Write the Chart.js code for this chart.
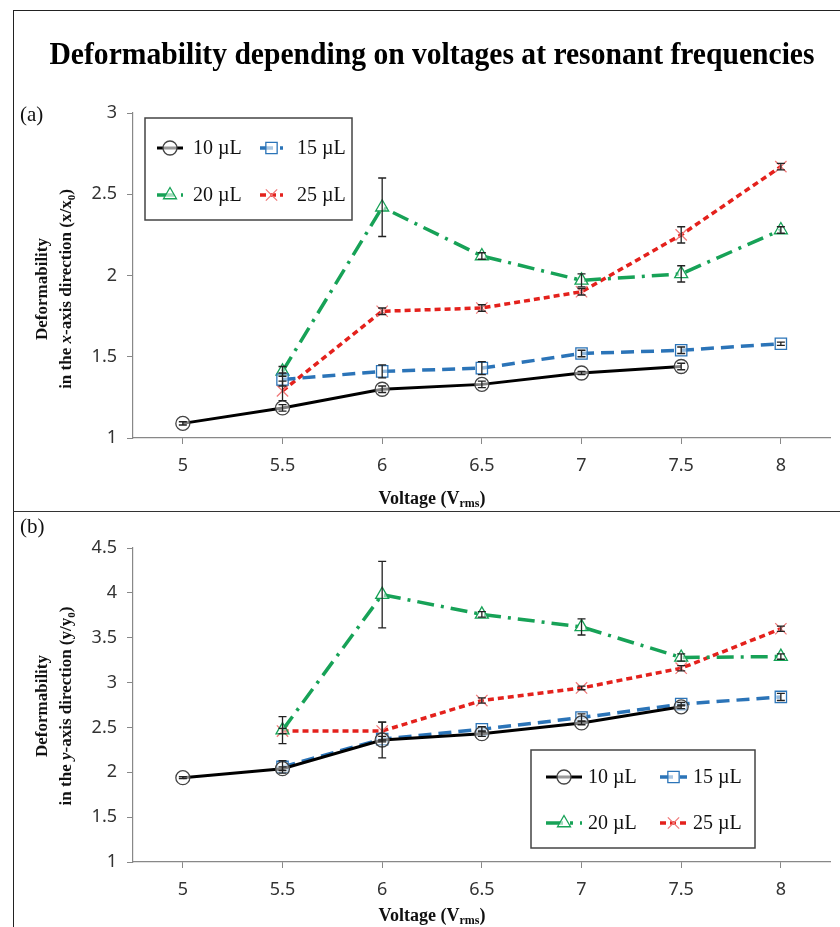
<!DOCTYPE html>
<html>
<head>
<meta charset="utf-8">
<script src="https://cdn.jsdelivr.net/npm/chart.js@4.4.1/dist/chart.umd.min.js"></script>
<style>
html, body { margin: 0; padding: 0; background: #fff; }
#wrap { position: relative; width: 840px; height: 927px; overflow: hidden; }
#frame { position: absolute; left: 13px; top: 10px; width: 900px; height: 1000px;
         border-left: 1.5px solid #222; border-top: 1.5px solid #222; }
#sep { position: absolute; left: 13px; top: 511px; width: 840px; border-top: 1.5px solid #333; }
.box { position: absolute; left: 14px; width: 826px; }
#boxA { top: 11px; height: 500px; }
#boxB { top: 513px; height: 414px; }
</style>
</head>
<body>
<div id="wrap">
  <div id="frame"></div>
  <div id="sep"></div>
  <div class="box" id="boxA"><canvas id="chartA"></canvas></div>
  <div class="box" id="boxB"><canvas id="chartB"></canvas></div>
</div>
<script>
// categorías del eje x (voltaje)
const categories = ['5', '5.5', '6', '6.5', '7', '7.5', '8'];
const seriesNames = ['10 µL', '15 µL', '20 µL', '25 µL'];

// (a) deformabilidad en x
const a10 = [1.09, 1.185, 1.30, 1.33, 1.40, 1.44, null];
const a15 = [null, 1.36, 1.41, 1.43, 1.52, 1.54, 1.58];
const a20 = [null, 1.41, 2.42, 2.12, 1.97, 2.01, 2.28];
const a25 = [null, 1.29, 1.78, 1.80, 1.90, 2.25, 2.67];
const a10Err = [0.01, 0.02, 0.02, 0.02, 0.01, 0.02, null];
const a15Err = [null, 0.04, 0.04, 0.04, 0.02, 0.02, 0.01];
const a20Err = [null, 0.03, 0.18, 0.02, 0.04, 0.05, 0.02];
const a25Err = [null, 0.06, 0.02, 0.02, 0.02, 0.05, 0.02];
const yTicksA = [1, 1.5, 2, 2.5, 3];

// (b) deformabilidad en y
const b10 = [1.94, 2.04, 2.36, 2.43, 2.55, 2.73, null];
const b15 = [null, 2.06, 2.37, 2.48, 2.61, 2.76, 2.84];
const b20 = [null, 2.47, 3.98, 3.76, 3.62, 3.28, 3.29];
const b25 = [null, 2.46, 2.46, 2.80, 2.94, 3.16, 3.60];
const b10Err = [0.01, 0.02, 0.20, 0.03, 0.02, 0.02, null];
const b15Err = [null, 0.07, 0.03, 0.03, 0.04, 0.02, 0.04];
const b20Err = [null, 0.15, 0.37, 0.03, 0.09, 0.04, 0.03];
const b25Err = [null, 0.03, 0.10, 0.03, 0.02, 0.03, 0.03];
const yTicksB = [1, 1.5, 2, 2.5, 3, 3.5, 4, 4.5];

// estilos de cada serie
const styles = [
    { color: '#000000', dash: [], width: 3, point: 'circle', pointColor: '#444444', radius: 7 },
    { color: '#2b74b8', dash: [13, 7], width: 3.5, point: 'rect', pointColor: '#2b74b8', radius: 8 },
    { color: '#17a257', dash: [17, 7, 3, 7], width: 3.5, point: 'triangle', pointColor: '#17a257', radius: 7.5 },
    { color: '#e4211c', dash: [6, 4], width: 3.5, point: 'crossRot', pointColor: '#f07a7a', radius: 8 }
];

function makeDatasets(values, errors) {
    return values.map((data, i) => ({
        label: seriesNames[i],
        data: data,
        errors: errors[i],
        borderColor: styles[i].color,
        borderWidth: styles[i].width,
        borderDash: styles[i].dash,
        pointStyle: styles[i].point,
        pointRadius: styles[i].radius,
        pointBorderColor: styles[i].pointColor,
        pointBackgroundColor: 'rgba(255,255,255,0.5)',
        pointBorderWidth: 1.3,
        tension: 0,
        spanGaps: false
    }));
}

// texto con subíndices / cursiva
function richText(ctx, parts, x, y, size, align, rotate) {
    const fontFor = p => (p.it ? 'italic ' : '') + 'bold ' + (p.sub ? Math.round(size * 0.65) : size) + 'px "Liberation Serif", "Times New Roman", serif';
    const segs = parts.map(p => typeof p === 'string' ? { t: p } : p);
    ctx.save();
    ctx.translate(x, y);
    if (rotate) ctx.rotate(-Math.PI / 2);
    let total = 0;
    segs.forEach(p => { ctx.font = fontFor(p); p.w = ctx.measureText(p.t).width; total += p.w; });
    let cx = align === 'center' ? -total / 2 : 0;
    ctx.textAlign = 'left';
    ctx.textBaseline = 'middle';
    ctx.fillStyle = '#111';
    segs.forEach(p => {
        ctx.font = fontFor(p);
        ctx.fillText(p.t, cx, p.sub ? size * 0.3 : 0);
        cx += p.w;
    });
    ctx.restore();
}

const extras = {
    id: 'extras',
    afterDatasetsDraw(chart) {
        // barras de error
        const ctx = chart.ctx;
        const ys = chart.scales.y;
        ctx.save();
        ctx.strokeStyle = '#222';
        ctx.lineWidth = 1.3;
        ctx.setLineDash([]);
        chart.data.datasets.forEach((ds, i) => {
            const meta = chart.getDatasetMeta(i);
            ds.errors.forEach((e, j) => {
                const v = ds.data[j];
                if (v == null || e == null) return;
                const x = meta.data[j].x;
                const y0 = ys.getPixelForValue(v - e);
                const y1 = ys.getPixelForValue(v + e);
                ctx.beginPath();
                ctx.moveTo(x, y0); ctx.lineTo(x, y1);
                ctx.moveTo(x - 4, y0); ctx.lineTo(x + 4, y0);
                ctx.moveTo(x - 4, y1); ctx.lineTo(x + 4, y1);
                ctx.stroke();
            });
        });
        ctx.restore();
    },
    afterDraw(chart, args, opts) {
        const ctx = chart.ctx;

        // título principal
        if (opts.title) {
            ctx.save();
            ctx.font = 'bold 32px "Liberation Serif", "Times New Roman", serif';
            const w = ctx.measureText(opts.title).width;
            const sx = opts.titleWidth / w;
            ctx.translate(opts.titleX, opts.titleY);
            ctx.scale(sx, 1);
            ctx.textAlign = 'center';
            ctx.textBaseline = 'middle';
            ctx.fillStyle = '#000';
            ctx.fillText(opts.title, 0, 0);
            ctx.restore();
        }

        // etiqueta del panel
        ctx.save();
        ctx.font = '21px "Liberation Serif", "Times New Roman", serif';
        ctx.fillStyle = '#111';
        ctx.textAlign = 'left';
        ctx.textBaseline = 'middle';
        ctx.fillText(opts.panel, opts.panelX, opts.panelY);
        ctx.restore();

        // títulos de ejes
        richText(ctx, ['Voltage (V', { t: 'rms', sub: true }, ')'], opts.xTitleX, opts.xTitleY, 18, 'center', false);
        richText(ctx, ['Deformability'], opts.yTitleX1, opts.yTitleY, 17, 'center', true);
        richText(ctx, opts.yTitle2, opts.yTitleX2, opts.yTitleY, 17, 'center', true);

        // leyenda
        const lg = opts.legend;
        ctx.save();
        ctx.fillStyle = '#fff';
        ctx.fillRect(lg.box[0], lg.box[1], lg.box[2], lg.box[3]);
        ctx.strokeStyle = '#444';
        ctx.lineWidth = 1.5;
        ctx.strokeRect(lg.box[0], lg.box[1], lg.box[2], lg.box[3]);
        chart.data.datasets.forEach((ds, i) => {
            const col = lg.cols[i % 2];
            const y = lg.rows[Math.floor(i / 2)];
            ctx.strokeStyle = ds.borderColor;
            ctx.lineWidth = ds.borderWidth;
            ctx.setLineDash(ds.borderDash);
            ctx.beginPath();
            ctx.moveTo(col[0], y);
            ctx.lineTo(col[1], y);
            ctx.stroke();
            ctx.setLineDash([]);
            ctx.strokeStyle = ds.pointBorderColor;
            ctx.fillStyle = 'rgba(255,255,255,0.6)';
            ctx.lineWidth = 1.3;
            const mx = (col[0] + col[1]) / 2;
            if (Chart.helpers && Chart.helpers.drawPoint) {
                Chart.helpers.drawPoint(ctx, { pointStyle: ds.pointStyle, radius: ds.pointRadius, borderWidth: 1.3, rotation: 0 }, mx, y);
            }
            ctx.fillStyle = '#111';
            ctx.font = '20px "Liberation Serif", "Times New Roman", serif';
            ctx.textAlign = 'left';
            ctx.textBaseline = 'middle';
            ctx.fillText(ds.label, col[2], y + 1);
        });
        ctx.restore();
    }
};

function makeOptions(yTicks, pads, xHeight, extraOpts) {
    return {
        responsive: true,
        maintainAspectRatio: false,
        animation: false,
        layout: { padding: pads },
        plugins: {
            legend: { display: false },
            tooltip: { enabled: false },
            extras: extraOpts
        },
        scales: {
            x: {
                type: 'category',
                offset: true,
                grid: { offset: false, drawOnChartArea: false, drawTicks: true, tickLength: 6, color: '#888' },
                border: { color: '#888', width: 1.2 },
                ticks: { font: { family: '"Noto Sans", sans-serif', size: 18 }, color: '#333', padding: 11, maxRotation: 0 },
                afterFit: s => { s.height = xHeight; }
            },
            y: {
                type: 'linear',
                min: yTicks[0],
                max: yTicks[yTicks.length - 1],
                afterBuildTicks: s => { s.ticks = yTicks.map(v => ({ value: v })); },
                grid: { drawOnChartArea: false, drawTicks: true, tickLength: 6, color: '#888' },
                border: { color: '#888', width: 1.2 },
                ticks: {
                    font: { family: '"Noto Sans", sans-serif', size: 18 },
                    color: '#333',
                    padding: 10,
                    callback: v => String(v)
                },
                afterFit: s => { s.width = 119; }
            }
        }
    };
}

new Chart(document.getElementById('chartA'), {
    type: 'line',
    data: { labels: categories, datasets: makeDatasets([a10, a15, a20, a25], [a10Err, a15Err, a20Err, a25Err]) },
    options: makeOptions(yTicksA, { top: 102, right: 8, left: 0, bottom: 0 }, 73, {
        title: 'Deformability depending on voltages at resonant frequencies',
        titleX: 418, titleY: 45, titleWidth: 765,
        panel: '(a)', panelX: 6, panelY: 104,
        xTitleX: 418, xTitleY: 488,
        yTitleX1: 29, yTitleX2: 53, yTitleY: 278,
        yTitle2: ['in the ', { t: 'x', it: true }, '-axis direction (x/x', { t: '0', sub: true }, ')'],
        legend: { box: [131, 107, 207, 102], rows: [137, 184], cols: [[143, 169, 179], [246, 269, 283]] }
    }),
    plugins: [extras]
});

new Chart(document.getElementById('chartB'), {
    type: 'line',
    data: { labels: categories, datasets: makeDatasets([b10, b15, b20, b25], [b10Err, b15Err, b20Err, b25Err]) },
    options: makeOptions(yTicksB, { top: 35, right: 8, left: 0, bottom: 0 }, 65, {
        title: '',
        panel: '(b)', panelX: 6, panelY: 14,
        xTitleX: 418, xTitleY: 403,
        yTitleX1: 29, yTitleX2: 53, yTitleY: 193,
        yTitle2: ['in the ', { t: 'y', it: true }, '-axis direction (y/y', { t: '0', sub: true }, ')'],
        legend: { box: [517, 237, 224, 98], rows: [264, 310], cols: [[532, 568, 574], [646, 673, 679]] }
    }),
    plugins: [extras]
});
</script>
</body>
</html>
